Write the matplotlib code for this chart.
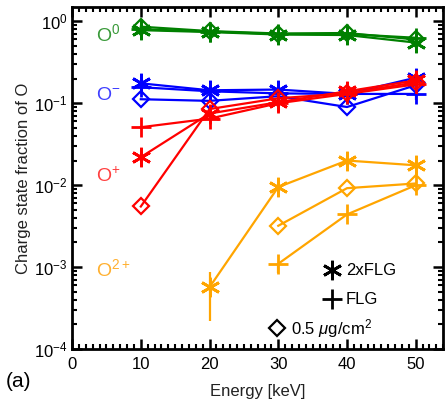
import matplotlib
matplotlib.use("Agg")
import matplotlib.pyplot as plt
import numpy as np
from matplotlib.ticker import MultipleLocator, LogLocator, NullFormatter

plt.rcParams['font.family'] = ['Liberation Sans', 'DejaVu Sans']
plt.rcParams['mathtext.fontset'] = 'custom'
plt.rcParams['mathtext.rm'] = 'Liberation Sans'
plt.rcParams['mathtext.it'] = 'Liberation Sans:italic'

energy = [10, 20, 30, 40, 50]

# O0
o0_2x = [0.78, 0.74, 0.69, 0.68, 0.55]
o0_flg = [0.80, 0.75, 0.70, 0.70, 0.63]
o0_dia = [0.86, 0.76, 0.71, 0.72, 0.60]
# O-
om_2x = [0.175, 0.144, 0.147, 0.130, 0.205]
om_flg = [0.157, 0.140, 0.132, 0.130, 0.130]
om_dia = [0.112, 0.107, 0.122, 0.090, 0.166]
# O+
op_2x = [0.022, 0.075, 0.103, 0.140, 0.190]
op_flg = [0.051, 0.065, 0.100, 0.130, 0.170]
op_dia = [0.0055, 0.085, 0.115, 0.132, 0.180]
# O2+
energy_2p_2x = [20, 30, 40, 50]
o2p_2x = [0.00057, 0.0095, 0.020, 0.0175]
o2p_2x_lo = [0.00035, 0, 0, 0]
o2p_2x_hi = [0.0003, 0, 0, 0]
energy_2p = [30, 40, 50]
o2p_flg = [0.0011, 0.0044, 0.0100]
o2p_dia = [0.0032, 0.0092, 0.0105]

fig = plt.figure(figsize=(4.45, 4.05), dpi=100)
ax = fig.add_axes([0.162, 0.138, 0.834, 0.845])
ax.set_yscale('log')

green, blue, red, orange = '#008000', '#0000ff', '#ff0000', '#ffa500'
ast = (6, 2, 0)
lw = 1.6
kw_ast = dict(marker=ast, markersize=14, markeredgewidth=2, lw=lw)
kw_plus = dict(marker='+', markersize=14, markeredgewidth=2, lw=lw)
kw_dia = dict(marker='D', markersize=8, markeredgewidth=1.6, markerfacecolor='none', lw=lw)

for c, a, f, d in [(green, o0_2x, o0_flg, o0_dia), (blue, om_2x, om_flg, om_dia), (red, op_2x, op_flg, op_dia)]:
    ax.plot(energy, a, color=c, **kw_ast)
    ax.plot(energy, f, color=c, **kw_plus)
    ax.plot(energy, d, color=c, **kw_dia)

ax.errorbar(energy_2p_2x, o2p_2x, yerr=[o2p_2x_lo, o2p_2x_hi], color=orange, capsize=0, elinewidth=1.6, **kw_ast)
ax.plot(energy_2p, o2p_flg, color=orange, **kw_plus)
ax.plot(energy_2p, o2p_dia, color=orange, **kw_dia)
# small error bars
ax.errorbar([50], [om_flg[4]], yerr=[[0.02], [0.0]], color=blue, capsize=0, elinewidth=1.6, fmt='none')
ax.errorbar([30], [o2p_flg[0]], yerr=[[0.00025], [0.0]], color=orange, capsize=0, elinewidth=1.6, fmt='none')

ax.set_xlim(0, 54)
ax.set_ylim(1e-4, 1.5)
ax.xaxis.set_major_locator(MultipleLocator(10))
ax.xaxis.set_minor_locator(MultipleLocator(1))
ax.yaxis.set_major_locator(LogLocator(base=10, numticks=10))
ax.yaxis.set_minor_locator(LogLocator(base=10, subs=np.arange(2, 10), numticks=10))
ax.yaxis.set_minor_formatter(NullFormatter())
ax.tick_params(which='both', direction='in', top=True, right=True, labelsize=12, colors='black')
ax.tick_params(which='major', length=7, width=1.8)
ax.tick_params(which='minor', length=3.5, width=1.5)
ax.tick_params(axis='x', pad=6)
for s in ax.spines.values():
    s.set_linewidth(2)

ax.set_xlabel('Energy [keV]', fontsize=12, labelpad=8, color='#222222')
ax.set_ylabel('Charge state fraction of O', fontsize=12, labelpad=2, color='#222222')

ax.text(3.5, 0.70, r'O$^{0}$', color='#3a9a3a', fontsize=14, va='center')
ax.text(3.5, 0.125, r'O$^{\mathrm{-}}$', color='#4040ff', fontsize=14, va='center')
ax.text(3.5, 0.013, r'O$^{+}$', color='#ff4040', fontsize=14, va='center')
ax.text(3.5, 0.00095, r'O$^{2+}$', color='#ffb030', fontsize=14, va='center')

# legend
ax.plot([0.70], [0.231], transform=ax.transAxes, color='black', marker=ast, markersize=14, markeredgewidth=2, ls='none')
ax.text(0.738, 0.231, '2xFLG', transform=ax.transAxes, fontsize=12, va='center')
ax.plot([0.70], [0.146], transform=ax.transAxes, color='black', marker='+', markersize=14, markeredgewidth=2, ls='none')
ax.text(0.738, 0.146, 'FLG', transform=ax.transAxes, fontsize=12, va='center')
ax.plot([0.553], [0.061], transform=ax.transAxes, color='black', marker='D', markersize=8, markeredgewidth=1.6, markerfacecolor='none', ls='none')
ax.text(0.59, 0.061, r'0.5 $\mu$g/cm$^{2}$', transform=ax.transAxes, fontsize=12, va='center')

fig.text(0.012, 0.045, '(a)', fontsize=15)

fig.savefig('out.png', dpi=100)
